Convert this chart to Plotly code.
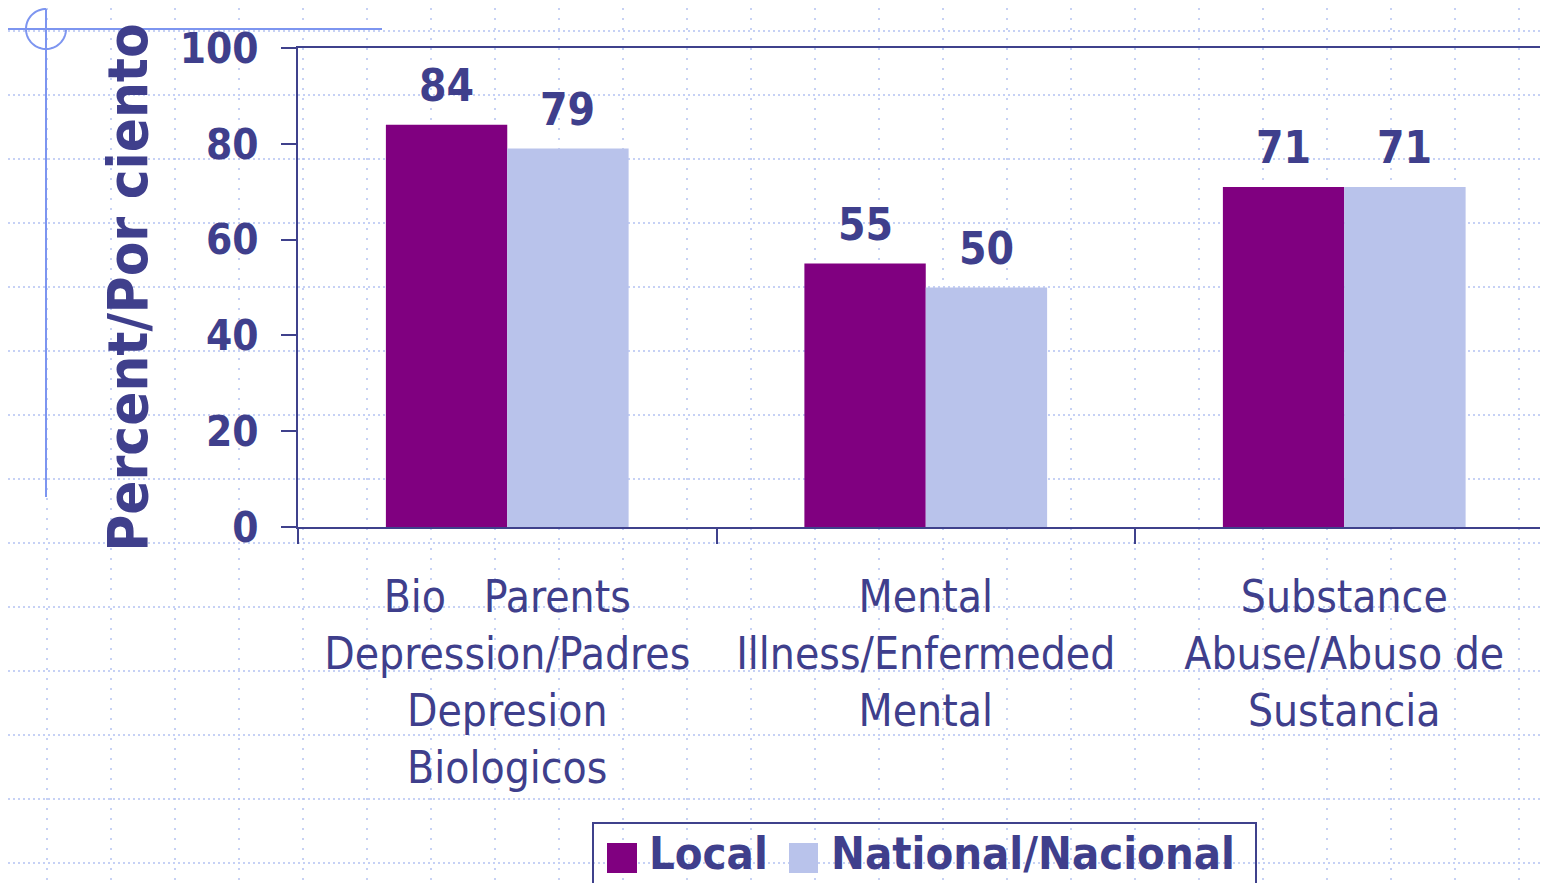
import math
import plotly.graph_objects as go

# ---- data ----
categories = [
    "Bio\u00a0\u00a0 Parents<br>Depression/Padres<br>Depresion<br>Biologicos",
    "Mental<br>Illness/Enfermeded<br>Mental",
    "Substance<br>Abuse/Abuso de<br>Sustancia",
]
local_values = [84, 55, 71]
national_values = [79, 50, 71]
series_names = ["Local", "National/Nacional"]
y_ticks = [0, 20, 40, 60, 80, 100]
y_title = "Percent/Por ciento"

# ---- style ----
OFF = 8  # page body margin of the browser
W, H = 1540, 875
ML, MR, MT, MB = 290, 0, 40, 356
TEXT = "#3F3F8C"
AXIS = "#3F418C"
C_LOCAL = "#800080"
C_NAT = "#B9C3EB"
GRID = "#B4C2F2"
DECO = "#7D95F0"
FONT = "DejaVu Sans Condensed, DejaVu Sans, sans-serif"
BARGAP = 0.42
CAT_PX = 418.5

PW = W - ML - MR
PH = H - MT - MB
XRANGE = [-0.5, -0.5 + PW / CAT_PX]


def px(x):
    """screen x -> paper x"""
    return (x - OFF - ML) / PW


def py(y):
    """screen y -> paper y"""
    return (H - MB - (y - OFF)) / PH


fig = go.Figure()
fig.add_trace(go.Bar(x=categories, y=local_values, name=series_names[0],
                     marker=dict(color=C_LOCAL, line=dict(width=0)), showlegend=False))
fig.add_trace(go.Bar(x=categories, y=national_values, name=series_names[1],
                     marker=dict(color=C_NAT, line=dict(width=0)), showlegend=False))

# value labels above bars
bar_w = CAT_PX * (1 - BARGAP) / 2
annotations = []
for vals, sh in ((local_values, -bar_w / 2), (national_values, bar_w / 2)):
    for c, v in zip(categories, vals):
        annotations.append(dict(x=c, y=v, xref="x", yref="y", text=f"<b>{v}</b>",
                                showarrow=False, xshift=sh, yshift=12, yanchor="bottom",
                                font=dict(family=FONT, size=44, color=TEXT)))

shapes = []
# dotted background grid (slide template)
x = 47
while x < W + OFF:
    shapes.append(dict(type="line", xref="paper", yref="paper", x0=px(x), x1=px(x),
                       y0=py(OFF), y1=py(H + OFF), layer="below",
                       line=dict(color=GRID, width=1.5, dash="2px,8px")))
    x += 64
y = 31
while y < H + OFF:
    shapes.append(dict(type="line", xref="paper", yref="paper", x0=px(OFF), x1=px(W + OFF),
                       y0=py(y), y1=py(y), layer="below",
                       line=dict(color=GRID, width=1.5, dash="2px,3px")))
    y += 64

# decorative crosshair
shapes.append(dict(type="line", xref="paper", yref="paper", x0=px(46), x1=px(46),
                   y0=py(9), y1=py(497), line=dict(color=DECO, width=2)))
shapes.append(dict(type="line", xref="paper", yref="paper", x0=px(8), x1=px(382),
                   y0=py(29), y1=py(29), line=dict(color=DECO, width=2)))
cx, cy, r = 46, 29, 20
pts = []
for i in range(0, 55):
    a = math.radians(90 + i * 5)  # from top, counterclockwise via left and bottom to right
    pts.append((cx + r * math.cos(a), cy - r * math.sin(a)))
path = "M " + " L ".join(f"{px(a):.5f},{py(b):.5f}" for a, b in pts)
shapes.append(dict(type="path", xref="paper", yref="paper", path=path,
                   line=dict(color=DECO, width=2)))

# legend box
shapes.append(dict(type="rect", xref="paper", yref="paper", x0=px(593), x1=px(1256),
                   y0=py(823), y1=py(900), line=dict(color=AXIS, width=2), fillcolor="rgba(0,0,0,0)"))
shapes.append(dict(type="rect", xref="paper", yref="paper", x0=px(607), x1=px(637),
                   y0=py(843), y1=py(873), line=dict(width=0), fillcolor=C_LOCAL))
shapes.append(dict(type="rect", xref="paper", yref="paper", x0=px(789), x1=px(818),
                   y0=py(843), y1=py(873), line=dict(width=0), fillcolor=C_NAT))
annotations.append(dict(xref="paper", yref="paper", x=px(647), y=py(882), text=f"<b>{series_names[0]}</b>",
                        showarrow=False, xanchor="left", yanchor="bottom",
                        font=dict(family=FONT, size=45, color=TEXT)))
annotations.append(dict(xref="paper", yref="paper", x=px(829), y=py(882), text=f"<b>{series_names[1]}</b>",
                        showarrow=False, xanchor="left", yanchor="bottom",
                        font=dict(family=FONT, size=45, color=TEXT)))

fig.update_layout(
    width=W, height=H,
    margin=dict(l=ML, r=MR, t=MT, b=MB, autoexpand=False),
    paper_bgcolor="white", plot_bgcolor="rgba(0,0,0,0)",
    barmode="group", bargap=BARGAP, bargroupgap=0,
    showlegend=False,
    shapes=shapes, annotations=annotations,
    font=dict(family=FONT, color=TEXT),
)
fig.update_xaxes(range=XRANGE, showline=True, linecolor=AXIS, linewidth=2, mirror=True,
                 ticks="outside", tickson="boundaries", ticklen=15, tickwidth=2, tickcolor=AXIS,
                 tickfont=dict(family=FONT, size=44, color=TEXT), ticklabelstandoff=30,
                 showgrid=False, zeroline=False, automargin=False)
fig.update_yaxes(range=[0, 100], tickvals=y_ticks, showline=True, linecolor=AXIS, linewidth=2,
                 ticks="outside", ticklen=15, tickwidth=2, tickcolor=AXIS,
                 tickfont=dict(family=FONT, size=42, color=TEXT, weight="bold"), ticklabelstandoff=14,
                 showgrid=False, zeroline=False, automargin=False,
                 title=dict(text=y_title, font=dict(family=FONT, size=56, color=TEXT, weight="bold"),
                            standoff=14))

fig.write_html("out.html")
